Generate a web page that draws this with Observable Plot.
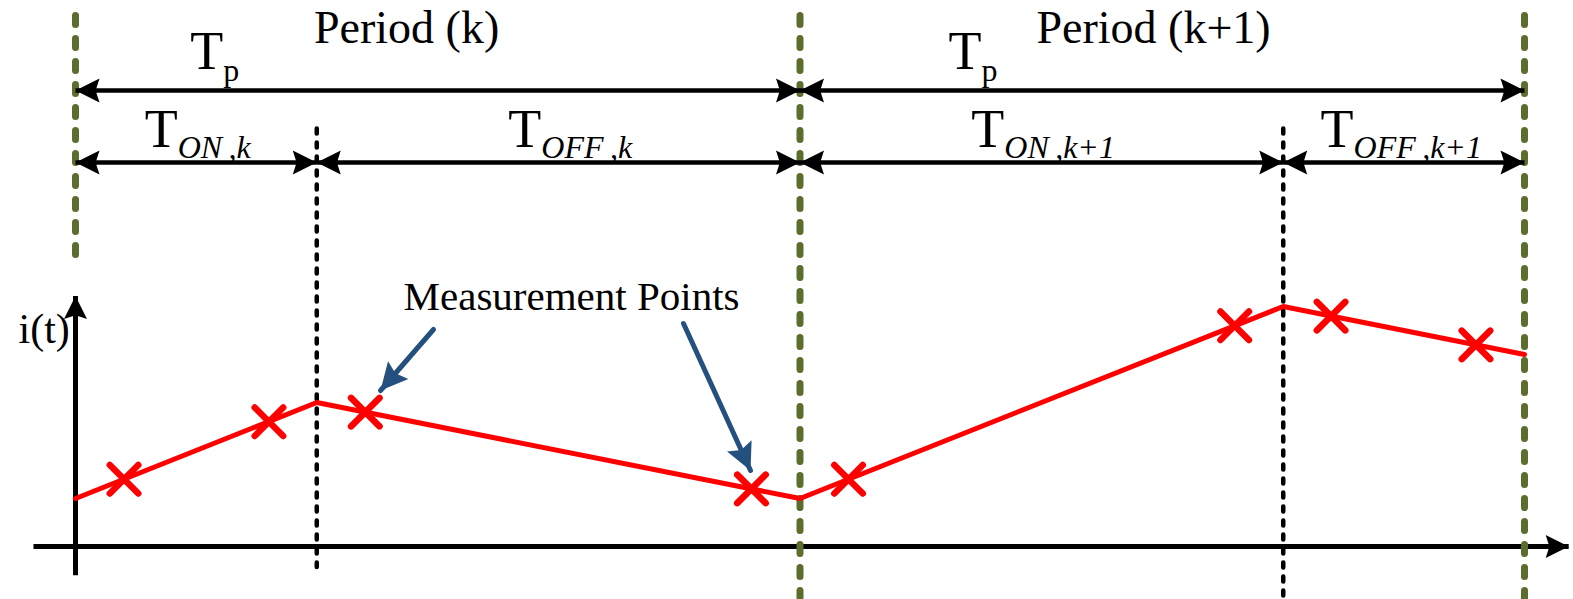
<!DOCTYPE html>
<html>
<head>
<meta charset="utf-8">
<script src="https://cdn.jsdelivr.net/npm/d3@7"></script>
<script src="https://cdn.jsdelivr.net/npm/@observablehq/plot@0.6"></script>
<style>
  html, body { margin: 0; padding: 0; background: #fff; }
  #chart svg { display: block; }
</style>
</head>
<body>
<div id="chart"></div>
<script>
// Time in units of the switching period Tp; current i(t) in arbitrary units.
const periodBounds = [0, 1, 2];
const switchTimes = [0.333, 1.667];
const vertexTimes = [0, 0.333, 1, 1.667, 2];
const vertexCurrents = [1, 3, 1, 5, 4];
const sampleTimes = [0.067, 0.267, 0.4, 0.933, 1.067, 1.6, 1.733, 1.933];
const sampleCurrents = [1.4, 2.6, 2.8, 1.2, 1.4, 4.6, 4.8, 4.2];
const periodLabels = ["Period (k)", "Period (k+1)"];
const periodSymbol = ["T", "p"];
const intervalSubscripts = ["ON\u2009,k", "OFF\u2009,k", "ON\u2009,k+1", "OFF\u2009,k+1"];
const yLabel = "i(t)";
const calloutLabel = "Measurement Points";

// ---- layout ----
const FONT = "Liberation Serif, Times New Roman, serif";
const GREEN = "#5b6e2d";
const BLUE = "#24507f";
const xDomain = [0, 2], xRange = [75, 1524];
const yDomain = [0, 5], yRange = [546, 306];
const px = d3.scaleLinear(xDomain, xRange);
const py = d3.scaleLinear(yDomain, yRange);

const vTop = 11.05, vBottom = -1.3;      // extent of the period / switch markers
const leftMarkerEnd = 6.0;               // first period marker stops above the i-axis
const switchTop = 8.7, firstSwitchEnd = -0.44;
const rowTp = 9.5, rowSplit = 8.0;       // dimension arrow rows
const periodLabelX = [0.457, 1.488], periodLabelY = 10.48;
const tpJoinX = [0.204, 1.2505], tpY = 9.958, tpSubY = 9.69;
const intervalJoinX = [0.141, 0.643, 1.282, 1.764], intervalY = 8.33, intervalSubY = 8.1;

// Filled, slightly notched arrowhead pointing up, tip at the origin.
const arrowHead = {
  draw(context, size) {
    const L = Math.sqrt(size / Math.PI);
    const w = L * 0.5, n = L * 0.84;
    context.moveTo(0, 0);
    context.lineTo(-w, L);
    context.lineTo(0, n);
    context.lineTo(w, L);
    context.closePath();
  }
};

// Dimension arrows: one per period, and one per ON/OFF interval
const pairs = (a) => a.slice(0, -1).map((v, i) => [v, a[i + 1]]);
const tpSpans = pairs(periodBounds).map(([a, b]) => ({a, b, y: rowTp}));
const splitEdges = [...periodBounds, ...switchTimes].sort((p, q) => p - q);
const splitSpans = pairs(splitEdges).map(([a, b]) => ({a, b, y: rowSplit}));
const spans = [...tpSpans, ...splitSpans];
const spanHeads = spans.flatMap(s => [
  {x: s.a, y: s.y, rot: -90},
  {x: s.b, y: s.y, rot: 90}
]);

// Axes of the waveform plot
const axisLines = [
  {x1: -0.058, y1: 0, x2: 2.061, y2: 0},
  {x1: 0, y1: -0.6, x2: 0, y2: 5.22}
];
const axisHeads = [
  {x: 2.061, y: 0, rot: 90},
  {x: 0, y: 5.22, rot: 0}
];

// Callout arrows from the label to two of the samples
const callouts = [
  {x1: 0.4941, y1: 4.521, x2: 0.421, y2: 3.25},
  {x1: 0.8392, y1: 4.646, x2: 0.9317, y2: 1.583}
];
const calloutHeads = callouts.map(c => ({
  x: c.x2, y: c.y2,
  rot: Math.atan2(px(c.x2) - px(c.x1), -(py(c.y2) - py(c.y1))) * 180 / Math.PI
}));

const waveform = vertexTimes.map((t, i) => ({t, i: vertexCurrents[i]}));
const samples = sampleTimes.map((t, i) => ({t, i: sampleCurrents[i]}));

const periodMarkers = periodBounds.map((t, k) => ({
  t, y1: vTop, y2: k === 0 ? leftMarkerEnd : vBottom
}));
const switchMarkers = switchTimes.map((t, k) => ({
  t, y1: switchTop, y2: k === 0 ? firstSwitchEnd : vBottom
}));

const chart = Plot.plot({
  width: 1573,
  height: 599,
  margin: 0,
  x: {domain: xDomain, range: xRange, axis: null},
  y: {domain: yDomain, range: yRange, axis: null},
  style: {background: "#fff", fontFamily: FONT, overflow: "hidden"},
  marks: [
    // switching instants (black dotted)
    Plot.ruleX(switchMarkers, {
      x: "t", y1: "y1", y2: "y2",
      stroke: "#000", strokeWidth: 4.5, strokeDasharray: "5,9", strokeLinecap: "round"
    }),
    // axes
    Plot.link(axisLines, {
      x1: "x1", y1: "y1", x2: "x2", y2: "y2",
      stroke: "#000", strokeWidth: 5
    }),
    Plot.dot(axisHeads, {
      x: "x", y: "y", rotate: "rot", symbol: arrowHead, r: 23, fill: "#000", stroke: "none"
    }),
    // period boundaries (green dashed)
    Plot.ruleX(periodMarkers, {
      x: "t", y1: "y1", y2: "y2",
      stroke: GREEN, strokeWidth: 7, strokeDasharray: "9,14", strokeLinecap: "round"
    }),
    // dimension arrows
    Plot.link(spans, {
      x1: "a", x2: "b", y1: "y", y2: "y",
      stroke: "#000", strokeWidth: 4.5
    }),
    Plot.dot(spanHeads, {
      x: "x", y: "y", rotate: "rot", symbol: arrowHead, r: 24, fill: "#000", stroke: "none"
    }),
    // inductor current
    Plot.line(waveform, {
      x: "t", y: "i", stroke: "#ff0000", strokeWidth: 5, strokeLinejoin: "miter"
    }),
    Plot.dot(samples, {
      x: "t", y: "i", symbol: "times", r: 13,
      stroke: "#ff0000", strokeWidth: 6.5, strokeLinecap: "round"
    }),
    // callout arrows
    Plot.link(callouts, {
      x1: "x1", y1: "y1", x2: "x2", y2: "y2",
      stroke: BLUE, strokeWidth: 5, strokeLinecap: "round"
    }),
    Plot.dot(calloutHeads, {
      x: "x", y: "y", rotate: "rot", symbol: arrowHead, r: 27, fill: BLUE, stroke: "none"
    }),
    // period titles
    Plot.text(periodLabels, {
      x: (d, k) => periodLabelX[k], y: periodLabelY, text: d => d,
      fontSize: 46, lineAnchor: "bottom", textAnchor: "middle", fill: "#000"
    }),
    // T_p
    Plot.text(tpJoinX, {
      x: d => d, y: tpY, text: () => periodSymbol[0],
      fontSize: 54, lineAnchor: "bottom", textAnchor: "end", fill: "#000"
    }),
    Plot.text(tpJoinX, {
      x: d => d, y: tpSubY, text: () => periodSymbol[1],
      fontSize: 32, lineAnchor: "bottom", textAnchor: "start", fill: "#000"
    }),
    // T_ON / T_OFF
    Plot.text(intervalSubscripts, {
      x: (d, k) => intervalJoinX[k], y: intervalY, text: () => "T",
      fontSize: 54, lineAnchor: "bottom", textAnchor: "end", fill: "#000"
    }),
    Plot.text(intervalSubscripts, {
      x: (d, k) => intervalJoinX[k], y: intervalSubY, text: d => d,
      fontSize: 32, fontStyle: "italic", lineAnchor: "bottom", textAnchor: "start", fill: "#000"
    }),
    // axis label and callout label
    Plot.text([yLabel], {
      x: -0.0787, y: 4.25, text: d => d,
      fontSize: 42, lineAnchor: "bottom", textAnchor: "start", fill: "#000"
    }),
    Plot.text([calloutLabel], {
      x: 0.4528, y: 4.917, text: d => d,
      fontSize: 41, lineAnchor: "bottom", textAnchor: "start", fill: "#000"
    })
  ]
});

document.getElementById("chart").appendChild(chart);
</script>
</body>
</html>
